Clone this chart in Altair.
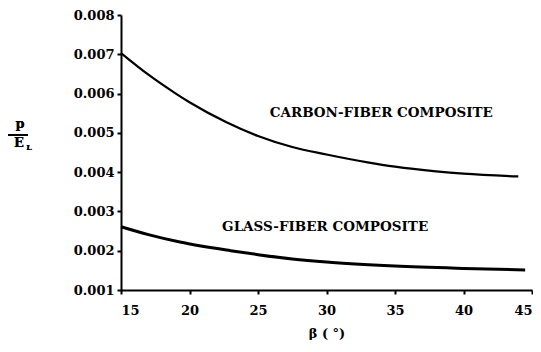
import altair as alt
import pandas as pd

beta_carbon = [15, 17, 19, 20, 22.7, 25, 27.5, 30, 33, 35, 38, 40, 44]
ratio_carbon = [0.00703, 0.00648, 0.00600, 0.00578, 0.00527, 0.00492, 0.00464, 0.00445, 0.00425, 0.00414, 0.00402, 0.00396, 0.00389]
beta_glass = [15, 17, 19.3, 23, 25, 27.5, 30, 35, 40, 44.5]
ratio_glass = [0.00261, 0.00241, 0.00222, 0.00200, 0.00190, 0.00179, 0.00171, 0.00161, 0.00155, 0.00151]
x_ticks = [15, 20, 25, 30, 35, 40, 45]
y_ticks = [0.001, 0.002, 0.003, 0.004, 0.005, 0.006, 0.007, 0.008]
label_names = ["CARBON-FIBER COMPOSITE", "GLASS-FIBER COMPOSITE"]
label_beta = [34.0, 29.9]
label_ratio = [0.00551, 0.00261]

rows = [{"beta": b, "ratio": r, "series": "carbon"} for b, r in zip(beta_carbon, ratio_carbon)]
rows += [{"beta": b, "ratio": r, "series": "glass"} for b, r in zip(beta_glass, ratio_glass)]
df = pd.DataFrame(rows)
labels = pd.DataFrame({"beta": label_beta, "ratio": label_ratio, "name": label_names})

FONT = "DejaVu Serif"

xs = alt.Scale(domain=[15, 45], nice=False)
ys = alt.Scale(domain=[0.001, 0.008], nice=False)
x_axis = alt.Axis(values=x_ticks, title="β ( °)", format="d", labelPadding=10,
                  titlePadding=10, labelOverlap=False)
y_axis = alt.Axis(values=y_ticks, title=None, format=".3f", labelPadding=3,
                  labelOverlap=False)

lines = alt.Chart(df).mark_line(color="black", interpolate="monotone").encode(
    x=alt.X("beta:Q", scale=xs, axis=x_axis),
    y=alt.Y("ratio:Q", scale=ys, axis=y_axis),
    detail="series:N",
    strokeWidth=alt.StrokeWidth("series:N", scale=alt.Scale(domain=["carbon", "glass"], range=[2.2, 3]), legend=None),
)

text = alt.Chart(labels).mark_text(font=FONT, fontWeight="bold", fontSize=13.5, align="center", color="black").encode(
    x=alt.X("beta:Q", scale=xs, axis=x_axis), y=alt.Y("ratio:Q", scale=ys, axis=y_axis), text="name:N"
)

p_txt = alt.Chart(labels).mark_text(font=FONT, fontWeight="bold", fontSize=13, color="black").encode(
    x=alt.value(-101), y=alt.value(109), text=alt.value("p")
)
frac = alt.Chart(labels).mark_rule(color="black", strokeWidth=1.8).encode(
    x=alt.value(-115), x2=alt.value(-93), y=alt.value(120)
)
e_txt = alt.Chart(labels).mark_text(font=FONT, fontWeight="bold", fontSize=13, color="black").encode(
    x=alt.value(-102), y=alt.value(128), text=alt.value("E")
)
l_txt = alt.Chart(labels).mark_text(font=FONT, fontWeight="bold", fontSize=8, color="black").encode(
    x=alt.value(-92), y=alt.value(133), text=alt.value("L")
)

chart = alt.layer(lines, text, p_txt, frac, e_txt, l_txt).properties(
    width=411, height=275,
    autosize=alt.AutoSizeParams(type="none"),
    padding={"left": 113, "top": 7, "right": 1, "bottom": 50},
).configure_view(stroke=None).configure_axis(
    grid=False, domainColor="black", domainWidth=2, tickColor="black", tickWidth=2, tickSize=4,
    labelFont=FONT, labelFontWeight="bold", labelFontSize=13, labelColor="black",
    titleFont=FONT, titleFontWeight="bold", titleFontSize=13, titleColor="black",
)

chart.save("out.html", embed_options={"renderer": "svg", "actions": False})
